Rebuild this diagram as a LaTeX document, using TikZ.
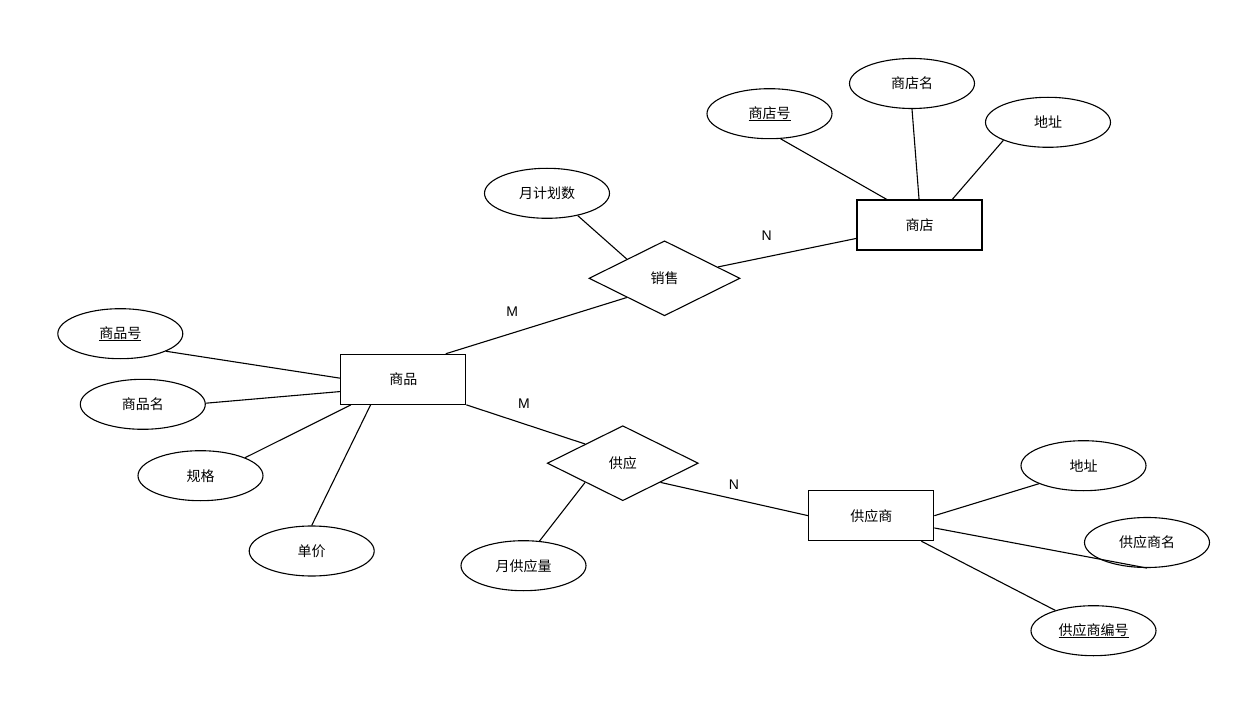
\documentclass[tikz,border=0pt]{standalone}
\usepackage{fontspec}
\setmainfont{Noto Sans CJK SC}
\newfontfamily\latinfont{Liberation Sans}
\usetikzlibrary{shapes.geometric}
\begin{document}
\begin{tikzpicture}[x=1pt,y=-1pt,
  font=\fontsize{14}{16}\selectfont,
  attr/.style={ellipse, draw, minimum width=125pt, minimum height=50pt, inner sep=0pt, line width=1.1pt},
  entity/.style={rectangle, draw, minimum width=125pt, minimum height=50pt, inner sep=0pt, line width=1.1pt},
  rel/.style={diamond, draw, minimum width=151pt, minimum height=75pt, inner sep=0pt, line width=1.1pt},
  link/.style={line width=1.1pt},
  card/.style={inner sep=0pt, font=\latinfont\fontsize{14}{16}\selectfont}]
\useasboundingbox[fill=white] (0,0) rectangle (1254,714);

% nodes
\node[attr] (shopno) at (769.5,113.7) {\underline{商店号}};
\node[attr] (shopname) at (912,83.5) {商店名};
\node[attr] (shopaddr) at (1048,122.3) {地址};
\node[entity] (shop) at (919.5,225) {商店};
\node[attr] (plan) at (547,193.3) {月计划数};
\node[rel] (sale) at (664.5,278.3) {销售};
\node[entity] (goods) at (403.3,379.3) {商品};
\node[attr] (gno) at (120.3,333.7) {\underline{商品号}};
\node[attr] (gname) at (142.8,404.3) {商品名};
\node[attr] (spec) at (200.5,475.7) {规格};
\node[attr] (price) at (311.7,551) {单价};
\node[rel] (supply) at (622.8,463.2) {供应};
\node[attr] (qty) at (523.5,565.7) {月供应量};
\node[entity] (supplier) at (871.3,515.7) {供应商};
\node[attr] (saddr) at (1083.5,465.7) {地址};
\node[attr] (sname) at (1147,542.5) {供应商名};
\node[attr] (sno) at (1093.5,630.7) {\underline{供应商编号}};

% cardinality labels
\node[card] (n1) at (766.7,236) {N};
\node[card] (m1) at (512.3,311.7) {M};
\node[card] (m2) at (524,404) {M};
\node[card] (n2) at (734,485) {N};

% connectors
\draw[link] (shopno.-66) -- (shop.142);
\draw[link] (shopname.south) -- (shop.91);
\draw[link] (shopaddr.202) -- (shop.38);
\draw[link] (sale.12) -- (shop.192.6);
\draw[link] (plan.-36) -- (sale.153);
\draw[link] (goods.31) -- (sale.207);
\draw[link] (gno.-21) -- (goods.179);
\draw[link] (gname.1) -- (goods.191.5);
\draw[link] (spec.22) -- (goods.206.5);
\draw[link] (price.north) -- (goods.218.5);
\draw[link] (goods.south east) -- (supply.153);
\draw[link] (supply.-27) -- (supplier.west);
\draw[link] (qty.57) -- (supply.207);
\draw[link] (supplier.east) -- (saddr.202);
\draw[link] (supplier.-11) -- (sname.south);
\draw[link] (supplier.-27.3) -- (sno.152.5);
\end{tikzpicture}
\end{document}
